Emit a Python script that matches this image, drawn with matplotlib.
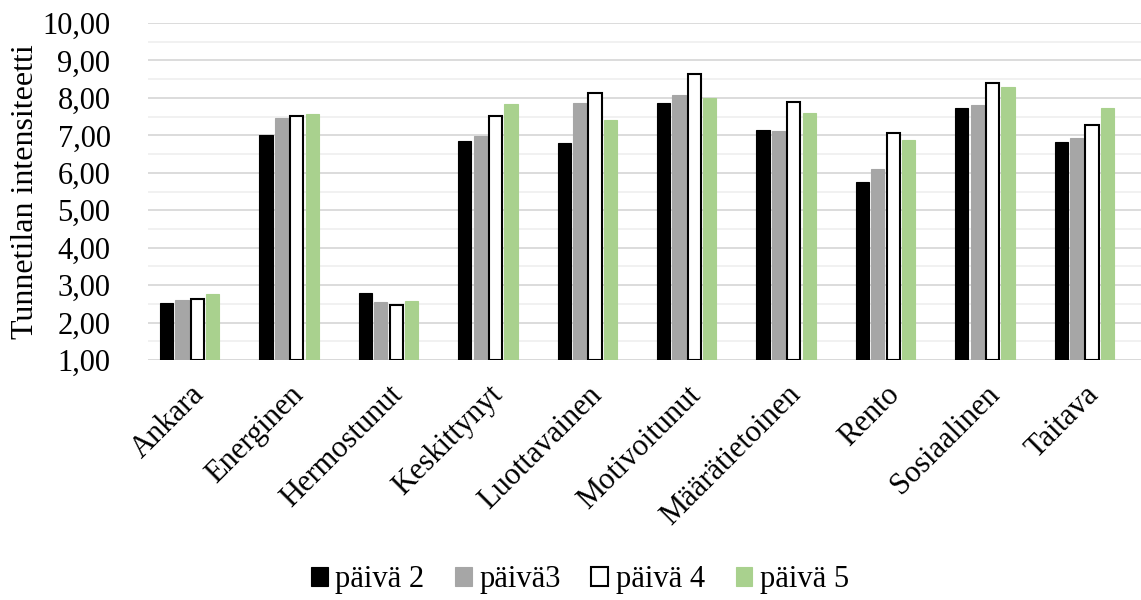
import matplotlib
matplotlib.use("Agg")
import matplotlib.pyplot as plt
import matplotlib.ticker as ticker
import matplotlib.transforms as mtransforms
import numpy as np

plt.rcParams["font.family"] = ["Liberation Serif", "DejaVu Serif"]

categories = ["Ankara", "Energinen", "Hermostunut", "Keskittynyt", "Luottavainen",
              "Motivoitunut", "Määrätietoinen", "Rento", "Sosiaalinen", "Taitava"]
paiva2 = [2.53, 7.02, 2.78, 6.85, 6.80, 7.86, 7.14, 5.75, 7.74, 6.83]
paiva3 = [2.60, 7.47, 2.54, 6.97, 7.86, 8.07, 7.11, 6.09, 7.80, 6.93]
paiva4 = [2.62, 7.52, 2.46, 7.52, 8.12, 8.64, 7.89, 7.05, 8.40, 7.27]
paiva5 = [2.77, 7.57, 2.58, 7.84, 7.40, 7.99, 7.59, 6.88, 8.28, 7.74]
series_labels = ["päivä 2", "päivä3", "päivä 4", "päivä 5"]

W, H = 1141, 600
fig = plt.figure(figsize=(W / 100, H / 100), dpi=100)
ax = fig.add_axes([148 / W, 1 - 360 / H, (W - 148) / W, (360 - 23) / H])

x = np.arange(len(categories))
slot = 0.155
width = 0.132
styles = [
    dict(color="#000000", edgecolor="#000000", linewidth=0.8),
    dict(color="#a6a6a6", edgecolor="#a6a6a6", linewidth=0.8),
    dict(color="#ffffff", edgecolor="#000000", linewidth=1.5),
    dict(color="#a9d18e", edgecolor="#a9d18e", linewidth=0.8),
]
for i, (vals, lab) in enumerate(zip([paiva2, paiva3, paiva4, paiva5], series_labels)):
    ax.bar(x + (i - 1.5) * slot, np.array(vals) - 1.0, width, bottom=1.0,
           label=lab, zorder=3, **styles[i])

ax.set_xlim(-0.42, 9.57)
ax.set_ylim(1, 10)
ax.yaxis.set_major_locator(ticker.MultipleLocator(1))
ax.yaxis.set_minor_locator(ticker.MultipleLocator(0.5))
ax.yaxis.set_major_formatter(ticker.FuncFormatter(lambda v, _: f"{v:.2f}".replace(".", ",")))
ax.grid(axis="y", which="major", color="#d9d9d9", linewidth=1.3, zorder=0)
ax.grid(axis="y", which="minor", color="#f0f0f0", linewidth=1.3, zorder=0)
ax.set_axisbelow(True)
for s in ax.spines.values():
    s.set_visible(False)
ax.axhline(1, color="#d9d9d9", linewidth=1.3, zorder=1)
ax.tick_params(axis="both", which="both", length=0)
ax.tick_params(axis="y", labelsize=22, pad=27)

ax.set_xticks(x)
ax.set_xticklabels(categories, rotation=45, ha="right", va="center",
                   rotation_mode="anchor", fontsize=22)
ax.tick_params(axis="x", pad=22)
offset = mtransforms.ScaledTranslation(0.10, 0, fig.dpi_scale_trans)
for lbl in ax.get_xticklabels():
    lbl.set_transform(lbl.get_transform() + offset)

ax.set_ylabel("Tunnetilan intensiteetti", fontsize=23, labelpad=2)

ax.legend(loc="center", bbox_to_anchor=(0.435, -0.652), ncol=4, frameon=False,
          fontsize=22, handlelength=0.55, handleheight=0.55, handletextpad=0.25,
          columnspacing=1.0, borderpad=0)

plt.savefig("out.png", dpi=100, facecolor="white")
